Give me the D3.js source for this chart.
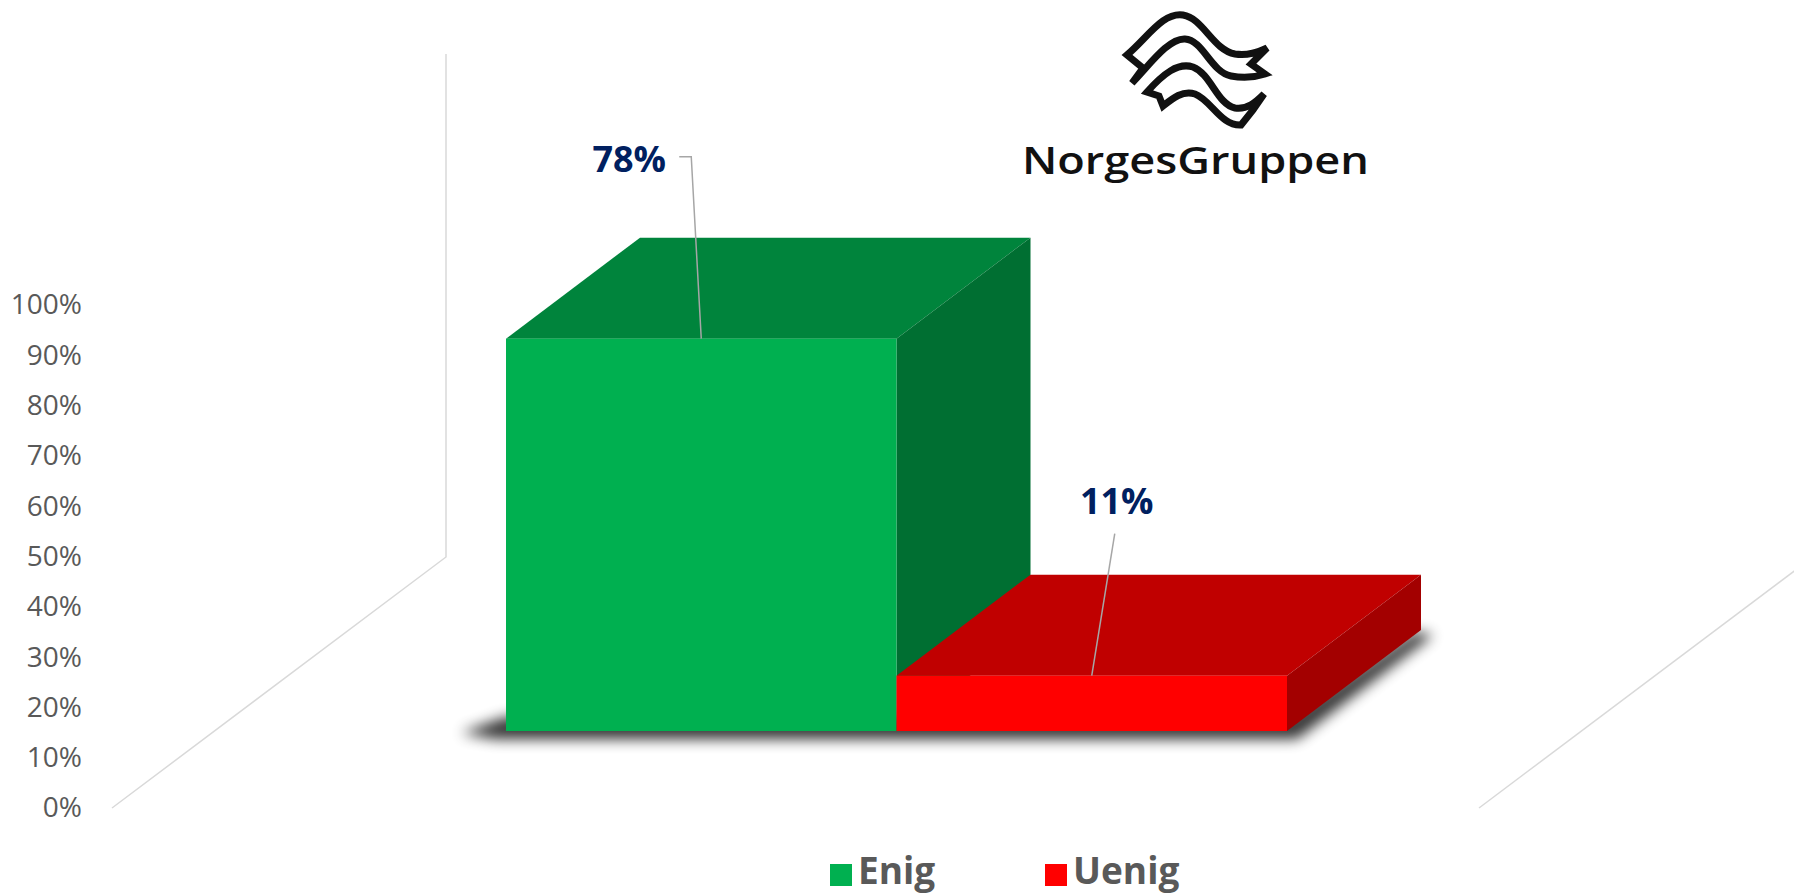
<!DOCTYPE html>
<html>
<head>
<meta charset="utf-8">
<script src="https://cdn.jsdelivr.net/npm/d3@7"></script>
<style>
html, body { margin: 0; padding: 0; background: #ffffff; overflow: hidden; }
svg { display: block; }
</style>
</head>
<body>
<svg id="chart" width="1794" height="895"></svg>
<script>
// ---------- data ----------
const categories = ["Enig", "Uenig"];
const values = [0.78, 0.11];
const tickValues = [0, 0.1, 0.2, 0.3, 0.4, 0.5, 0.6, 0.7, 0.8, 0.9, 1.0];
const legendLabels = ["Enig", "Uenig"];
const logoText = "NorgesGruppen";

// ---------- styles ----------
const frontColors = ["#00B050", "#FF0000"];
const topColors = ["#00843C", "#C00000"];
const sideColors = ["#006F32", "#A30000"];
const FONT = "'Open Sans', 'Noto Sans', sans-serif";

// ---------- layout ----------
const W = 1794, H = 895;
const depth = { dx: 134, dy: -101 };
const labelOffsets = [[-72, -167], [25, -162]];

const svg = d3.select("#chart");
svg.append("rect").attr("width", W).attr("height", H).attr("fill", "#ffffff");

// scales
const x = d3.scaleBand().domain(categories).range([506, 1287]).padding(0);
const yAxisScale = d3.scaleLinear().domain([0, 1]).range([808, 305]);
const yBar = d3.scaleLinear().domain([0, 1]).range([731, 228]);

// ---------- walls / floor lines ----------
const wallX = 446;
const floorBackY = yAxisScale(0) - 251;
const walls = svg.append("g").attr("stroke", "#d9d9d9").attr("stroke-width", 1.5).attr("fill", "none");
walls.append("path").attr("d", d3.line()([[wallX, floorBackY - (yAxisScale(0) - yAxisScale(1))], [wallX, floorBackY], [112, yAxisScale(0)]]));
walls.append("path").attr("d", d3.line()([[1479, yAxisScale(0)], [1479 + 334, yAxisScale(0) - 251]]));

// ---------- y axis ----------
const axisG = svg.append("g")
  .attr("transform", "translate(82,0)")
  .call(d3.axisLeft(yAxisScale).tickValues(tickValues).tickFormat(d3.format(".0%")).tickSize(0).tickPadding(0));
axisG.select(".domain").remove();
axisG.attr("font-family", FONT).attr("font-size", 28);
axisG.selectAll("text").attr("fill", "#595959");

// ---------- shadow ----------
const defs = svg.append("defs");
const f = defs.append("filter").attr("id", "blur").attr("x", "-20%").attr("y", "-50%").attr("width", "140%").attr("height", "200%");
f.append("feGaussianBlur").attr("stdDeviation", 7);
const x0 = x(categories[0]), xEnd = x(categories[categories.length - 1]) + x.bandwidth();
const base = yBar(0);
svg.append("path")
  .attr("d", d3.line()([
    [x0 - 45, base + 2], [x0, base - 14], [xEnd, base - 12],
    [xEnd + depth.dx - 6, base + depth.dy + 2], [xEnd + depth.dx + 12, base + depth.dy + 5],
    [xEnd + 10, base + 8], [x0 - 10, base + 8]
  ]) + "Z")
  .attr("fill", "#000").attr("opacity", 0.8).attr("filter", "url(#blur)");

// ---------- bars ----------
const barsG = svg.append("g");
categories.forEach((c, i) => {
  const bx0 = x(c), bx1 = bx0 + x.bandwidth();
  const yt = yBar(values[i]), yb = yBar(0);
  const g = barsG.append("g");
  g.append("path").attr("fill", topColors[i])
    .attr("d", d3.line()([[bx0, yt], [bx1, yt], [bx1 + depth.dx, yt + depth.dy], [bx0 + depth.dx, yt + depth.dy]]) + "Z");
  g.append("path").attr("fill", sideColors[i])
    .attr("d", d3.line()([[bx1, yt], [bx1 + depth.dx, yt + depth.dy], [bx1 + depth.dx, yb + depth.dy], [bx1, yb]]) + "Z");
  g.append("rect").attr("fill", frontColors[i])
    .attr("x", bx0).attr("y", yt).attr("width", x.bandwidth()).attr("height", yb - yt);
});

// ---------- data labels with leader lines ----------
const labelsG = svg.append("g");
categories.forEach((c, i) => {
  const cx = x(c) + x.bandwidth() / 2;
  const yt = yBar(values[i]);
  const lx = cx + labelOffsets[i][0];
  const ly = yt + labelOffsets[i][1];
  labelsG.append("text")
    .attr("x", lx).attr("y", ly)
    .attr("text-anchor", "middle")
    .attr("font-family", FONT).attr("font-weight", 700).attr("font-size", 36)
    .attr("fill", "#002060")
    .text(d3.format(".0%")(values[i]));
  let pts;
  if (i === 0) {
    pts = [[cx, yt], [lx + 62, ly - 15], [lx + 50, ly - 15]];
  } else {
    pts = [[cx, yt], [lx - 2, ly + 20]];
  }
  labelsG.append("path").attr("d", d3.line()(pts))
    .attr("fill", "none").attr("stroke", "#a6a6a6").attr("stroke-width", 1.5);
});

// ---------- logo ----------
const logo = svg.append("g").attr("transform", "translate(1123,12)");
const sym = logo.append("g").attr("fill", "#fff").attr("stroke", "#111").attr("stroke-width", 7)
  .attr("stroke-linejoin", "miter");
// lower ribbon
sym.append("path").attr("d",
  "M24,80 C40,62 55,50 70,55 C88,62 94,92 112,96 C124,98 133,90 141,82 L130,98 L118,113 " +
  "C98,114 88,88 72,82 C60,78 50,86 40,94 L36,84 Z");
// upper ribbon
sym.append("path").attr("d",
  "M4,43 C25,25 40,0 60,3 C80,6 90,38 112,42 C125,44 135,40 144,36 L128,52 L142,62 " +
  "C130,66 118,66 108,64 C88,60 80,28 62,27 C45,26 25,55 9,71 L20,56 Z");
logo.append("text")
  .attr("x", 1022 - 1123).attr("y", 174 - 12)
  .attr("font-family", "'Open Sans', 'DejaVu Sans', sans-serif").attr("font-weight", 600)
  .attr("font-size", 37).attr("fill", "#111")
  .attr("textLength", 347).attr("lengthAdjust", "spacingAndGlyphs")
  .text(logoText);

// ---------- legend ----------
const legendX = [830, 1045];
const legend = svg.append("g");
legendLabels.forEach((l, i) => {
  legend.append("rect").attr("x", legendX[i]).attr("y", 864).attr("width", 22).attr("height", 22).attr("fill", frontColors[i]);
  legend.append("text").attr("x", legendX[i] + 28).attr("y", 884)
    .attr("font-family", FONT).attr("font-weight", 700).attr("font-size", 37)
    .attr("fill", "#595959").text(l);
});
</script>
</body>
</html>
